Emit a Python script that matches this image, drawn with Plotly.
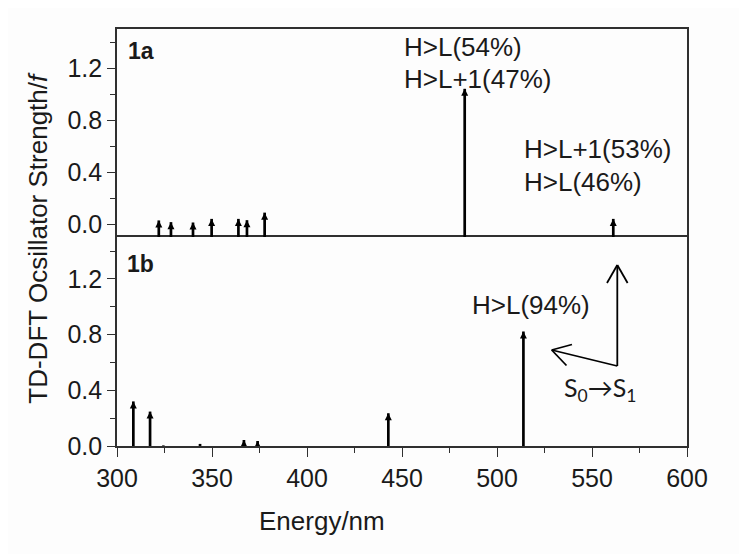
import plotly.graph_objects as go

# ---- data ----
top_nm = [322.0, 328.4, 340.0, 349.8, 363.9, 368.4, 377.7, 483.0, 561.2]
top_f = [0.028, 0.015, 0.012, 0.04, 0.04, 0.03, 0.088, 1.04, 0.04]
bottom_nm = [308.6, 317.4, 324.4, 343.7, 366.8, 374.0, 442.8, 513.9]
bottom_f = [0.32, 0.247, 0.004, 0.015, 0.043, 0.036, 0.235, 0.822]

x_range = [300, 600]
top_range = [-0.1, 1.5]
bottom_range = [0, 1.5]
y_ticks = [0.0, 0.4, 0.8, 1.2]
y_ticktext = ["0.0", "0.4", "0.8", "1.2"]
x_ticks = [300, 350, 400, 450, 500, 550, 600]

TXT = "#1a1a1a"
AX = "#303030"
FONT = "Liberation Sans, Arial, sans-serif"


def stems(xs, ys, base):
    sx, sy = [], []
    for x, y in zip(xs, ys):
        sx += [x, x, None]
        sy += [base, y, None]
    return sx, sy


fig = go.Figure()

# top panel (1a)
sx, sy = stems(top_nm, top_f, top_range[0])
fig.add_trace(go.Scatter(x=sx, y=sy, mode="lines", line=dict(color="black", width=2.7),
                         xaxis="x2", yaxis="y2", hoverinfo="skip", showlegend=False))
fig.add_trace(go.Scatter(x=top_nm, y=top_f, mode="markers",
                         marker=dict(symbol="arrow-up", size=7, color="black"),
                         xaxis="x2", yaxis="y2", showlegend=False))

# bottom panel (1b)
sx, sy = stems(bottom_nm, bottom_f, bottom_range[0])
fig.add_trace(go.Scatter(x=sx, y=sy, mode="lines", line=dict(color="black", width=2.7),
                         xaxis="x", yaxis="y", hoverinfo="skip", showlegend=False))
fig.add_trace(go.Scatter(x=bottom_nm, y=bottom_f, mode="markers",
                         marker=dict(symbol="arrow-up", size=7, color="black"),
                         xaxis="x", yaxis="y", showlegend=False))

split = 0.501
yax_common = dict(
    tickvals=y_ticks, ticktext=y_ticktext, ticks="outside", ticklen=8, tickwidth=1.2,
    tickcolor=AX, showline=True, linecolor=AX, linewidth=1.6, mirror=True,
    showgrid=False, zeroline=False, tickfont=dict(family=FONT, size=25, color=TXT),
    automargin=False,
    minor=dict(dtick=0.2, tick0=0, ticks="outside", ticklen=5, tickcolor=AX, tickwidth=1.2),
)

# page body has an 8px margin, so the figure is drawn 8px smaller and offset
fig.update_layout(
    width=739, height=546,
    margin=dict(l=109, r=60, t=21, b=108),
    paper_bgcolor="#fdfdfd", plot_bgcolor="#fdfdfd",
    showlegend=False,
    xaxis=dict(range=x_range, domain=[0, 1], anchor="y", tickvals=x_ticks, ticks="outside",
               ticklen=9, tickwidth=1.2, tickcolor=AX, showline=True, linecolor=AX,
               linewidth=1.6, mirror=True, showgrid=False, zeroline=False, automargin=False,
               tickfont=dict(family=FONT, size=25, color=TXT),
               minor=dict(dtick=25, tick0=300, ticks="outside", ticklen=5, tickcolor=AX,
                          tickwidth=1.2)),
    xaxis2=dict(range=x_range, domain=[0, 1], anchor="y2", matches="x", showticklabels=False,
                side="top", ticks="", showline=True, linecolor=AX, linewidth=1.6, mirror=False,
                showgrid=False, zeroline=False, automargin=False),
    yaxis=dict(range=bottom_range, domain=[0, split], anchor="x", **yax_common),
    yaxis2=dict(range=top_range, domain=[split, 1], anchor="x2", **yax_common),
)

def ann(text, x, y, size=26, xanchor="left", bold=False, family=FONT):
    t = f"<b>{text}</b>" if bold else text
    fig.add_annotation(text=t, x=x, y=y, xref="paper", yref="paper", showarrow=False,
                       xanchor=xanchor, yanchor="middle",
                       font=dict(family=family, size=size, color=TXT))

ann("H>L(54%)", 0.500, 0.957)
ann("H>L+1(47%)", 0.500, 0.880)
ann("H>L+1(53%)", 0.710, 0.713)
ann("H>L(46%)", 0.710, 0.632)
ann("H>L(94%)", 0.619, 0.337)
ann("1a", 0.016, 0.948, size=23, bold=True)
ann("1b", 0.014, 0.437, size=23, bold=True)
ann("S<sub>0</sub>→S<sub>1</sub>", 0.780, 0.136, size=25, family="Lato, Carlito, sans-serif")

# axis titles
fig.add_annotation(text="TD-DFT Ocsillator Strength/<i>f</i>", x=-0.140, y=0.5,
                   xref="paper", yref="paper", showarrow=False, textangle=-90,
                   xanchor="center", yanchor="middle",
                   font=dict(family=FONT, size=26, color=TXT))
fig.add_annotation(text="Energy/nm", x=0.36, y=-0.18, xref="paper", yref="paper",
                   showarrow=False, xanchor="center", yanchor="middle",
                   font=dict(family=FONT, size=26, color=TXT))

# S0 -> S1 schematic (decoration), drawn with open V arrowheads
PX0, PX1, PY0, PY1 = 117.0, 687.0, 29.0, 446.0
def px(x):
    return (x - PX0) / (PX1 - PX0)
def py(y):
    return (PY1 - y) / (PY1 - PY0)

segments = [
    ((617.3, 366), (617.3, 265)),      # vertical shaft
    ((607.0, 283), (617.3, 265)),      # V head left arm
    ((627.6, 283), (617.3, 265)),      # V head right arm
    ((617.3, 366), (551.7, 350)),      # slanted shaft
    ((572.0, 344.5), (551.7, 350)),    # V head upper arm
    ((566.5, 365.5), (551.7, 350)),    # V head lower arm
]
for (a, b) in segments:
    fig.add_shape(type="line", xref="paper", yref="paper",
                  x0=px(a[0]), y0=py(a[1]), x1=px(b[0]), y1=py(b[1]),
                  line=dict(color="black", width=1.8))

fig.write_html("out.html")
